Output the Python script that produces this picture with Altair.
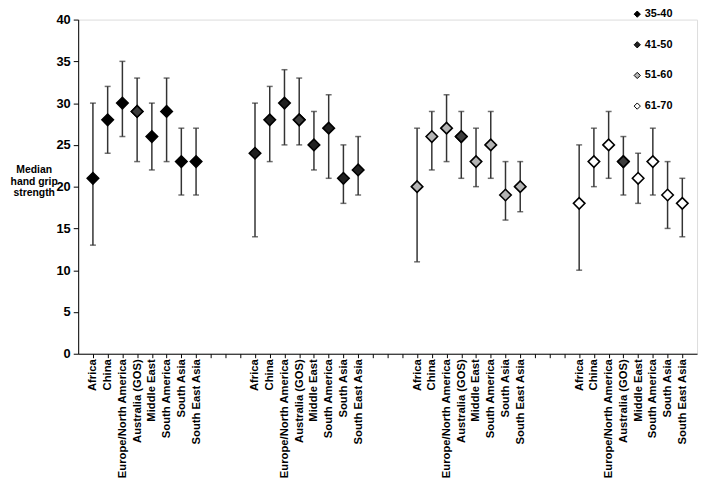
import altair as alt
import pandas as pd

regions = ["Africa", "China", "Europe/North America", "Australia (GOS)",
           "Middle East", "South America", "South Asia", "South East Asia"]
groups = ["35-40", "41-50", "51-60", "61-70"]

median_35_40 = [21, 28, 30, 29, 26, 29, 23, 23]
low_35_40 = [13, 24, 26, 23, 22, 23, 19, 19]
high_35_40 = [30, 32, 35, 33, 30, 33, 27, 27]

median_41_50 = [24, 28, 30, 28, 25, 27, 21, 22]
low_41_50 = [14, 23, 25, 25, 22, 21, 18, 19]
high_41_50 = [30, 32, 34, 33, 29, 31, 25, 26]

median_51_60 = [20, 26, 27, 26, 23, 25, 19, 20]
low_51_60 = [11, 22, 23, 21, 20, 21, 16, 17]
high_51_60 = [27, 29, 31, 29, 27, 29, 23, 23]

median_61_70 = [18, 23, 25, 23, 21, 23, 19, 18]
low_61_70 = [10, 20, 21, 19, 18, 19, 15, 14]
high_61_70 = [25, 27, 29, 26, 24, 27, 23, 21]

group_fill = ["#000000", "#202020", "#b4b4b4", "#ffffff"]
highlight_fill = "#3c3c3c"

medians = [median_35_40, median_41_50, median_51_60, median_61_70]
lows = [low_35_40, low_41_50, low_51_60, low_61_70]
highs = [high_35_40, high_41_50, high_51_60, high_61_70]

rows = []
domain = []
for gi, g in enumerate(groups):
    for ri, r in enumerate(regions):
        key = f"{g}|{r}"
        domain.append(key)
        rows.append({"key": key, "group": g, "region": r,
                     "median": medians[gi][ri], "low": lows[gi][ri], "high": highs[gi][ri]})
    if gi < len(groups) - 1:
        for j in range(3):
            domain.append(f"gap{gi}_{j}")
df = pd.DataFrame(rows)

FONT = "Liberation Sans"
x_scale = alt.Scale(domain=domain, type="point", padding=1)

x_enc = alt.X(
    "key:N",
    scale=x_scale,
    axis=alt.Axis(
        title=None,
        labelExpr="indexof(datum.label, '|') >= 0 ? split(datum.label, '|')[1] : ''",
        labelAngle=-90, labelFont=FONT, labelFontSize=11.4, labelFontWeight="bold",
        labelColor="black", labelPadding=1, tickSize=4, tickColor="black",
        domainColor="black", labelOverlap=False,
    ),
)

y_scale = alt.Scale(domain=[0, 40], nice=False)

base = alt.Chart(df)

rules = base.mark_rule(color="#333333", strokeWidth=1.5).encode(
    x=x_enc,
    y=alt.Y("low:Q", scale=y_scale,
            axis=alt.Axis(
                values=list(range(0, 41, 5)), grid=False, tickSize=5,
                tickColor="black", domainColor="black",
                labelFont=FONT, labelFontSize=13, labelFontWeight="bold",
                labelColor="black", labelPadding=3,
                title=["Median", "hand grip", "strength"], titleAngle=0,
                titleFont=FONT, titleFontSize=10.5, titleFontWeight="bold",
                titleColor="black", titleAlign="center", titleBaseline="top",
                titleX=-45, titleY=147, titleLineHeight=11.5,
            )),
    y2="high:Q",
)

caps_low = base.mark_tick(color="#333333", size=6, thickness=1.5).encode(
    x=alt.X("key:N", scale=x_scale),
    y=alt.Y("low:Q", scale=y_scale),
)
caps_high = base.mark_tick(color="#333333", size=6, thickness=1.5).encode(
    x=alt.X("key:N", scale=x_scale),
    y=alt.Y("high:Q", scale=y_scale),
)

points = base.mark_point(shape="diamond", filled=True, size=135,
                         stroke="black", strokeWidth=1.6, opacity=1).encode(
    x=alt.X("key:N", scale=x_scale),
    y=alt.Y("median:Q", scale=y_scale),
    fill=alt.Fill("group:N",
                  scale=alt.Scale(domain=groups, range=group_fill),
                  legend=alt.Legend(
                      title=None, orient="none", legendX=560, legendY=-11,
                      symbolType="diamond", symbolSize=40,
                      symbolStrokeColor="black", symbolStrokeWidth=1,
                      labelFont=FONT, labelFontSize=11, labelFontWeight="bold",
                      labelColor="black", labelOffset=2, rowPadding=19,
                  )),
)

highlight = base.transform_filter(
    alt.datum.region == "Australia (GOS)"
).mark_point(shape="diamond", filled=True, size=135, stroke="black",
             strokeWidth=1.6, fill=highlight_fill, opacity=1).encode(
    x=alt.X("key:N", scale=x_scale),
    y=alt.Y("median:Q", scale=y_scale),
)

chart = alt.layer(rules, caps_low, caps_high, points, highlight).properties(
    width=626, height=338,
    autosize=alt.AutoSizeParams(type="none"),
    padding={"left": 71, "top": 9, "right": 4, "bottom": 124},
).configure_view(stroke=None).configure(background="white")

chart.save("out.html", embed_options={"renderer": "svg", "actions": False})
